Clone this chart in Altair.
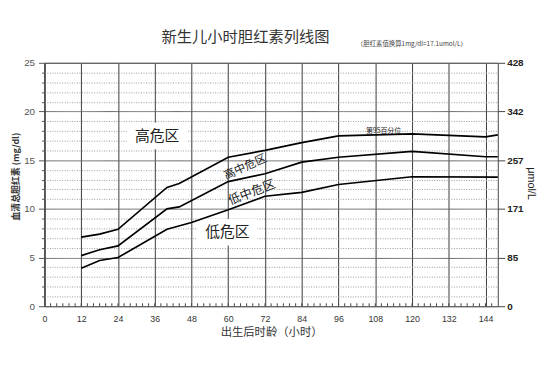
import altair as alt
import pandas as pd

# ---- data ----
hours_95 = [12, 18, 24, 40, 44, 60, 72, 84, 96, 120, 144, 148]
tsb_95 = [7.1, 7.4, 7.9, 12.2, 12.6, 15.3, 16.0, 16.8, 17.5, 17.7, 17.4, 17.6]
hours_75 = [12, 18, 24, 40, 44, 60, 72, 84, 96, 120, 144, 148]
tsb_75 = [5.2, 5.8, 6.2, 10.0, 10.2, 12.8, 13.6, 14.8, 15.3, 15.9, 15.35, 15.35]
hours_40 = [12, 18, 24, 40, 48, 60, 72, 84, 96, 120, 148]
tsb_40 = [3.9, 4.7, 5.0, 7.9, 8.6, 9.9, 11.3, 11.7, 12.5, 13.3, 13.25]

x_ticks = list(range(0, 145, 12))
y_ticks = list(range(0, 26))
y_major = [0, 5, 10, 15, 20, 25]
umol_labels = ["0", "85", "171", "257", "342", "428"]
minor_hours = list(range(2, 148, 2))

zone_labels = ["高危区", "高中危区", "低中危区", "低危区", "第95百分位"]
zone_x = [36.8, 65.6, 67.7, 59.7, 110.7]
zone_y = [17.5, 14.25, 11.7, 7.6, 18.0]
zone_size = [15, 11.5, 12.5, 15, 7]
zone_angle = [0, 336, 339, 0, 0]

title_text = "新生儿小时胆红素列线图"
note_text = "（胆红素值换算1mg/dl=17.1umol/L）"

# ---- tables ----
W, H = 460, 247
X_MAX, Y_MAX = 148, 25
rows = []
for name, hs, vs in [("p95", hours_95, tsb_95), ("p75", hours_75, tsb_75), ("p40", hours_40, tsb_40)]:
    for h, v in zip(hs, vs):
        rows.append({"series": name, "hour": h, "tsb": v})
lines_df = pd.DataFrame(rows)
ticks_df = pd.DataFrame({"hour": minor_hours, "y0": 0.0, "y1": 0.3})
zones_df = pd.DataFrame({"label": zone_labels, "hour": zone_x, "tsb": zone_y,
                         "fs": zone_size, "ang": zone_angle})

# white boxes behind the large horizontal zone labels (derived from label size)
box = zones_df[(zones_df.ang == 0) & (zones_df.fs >= 13)].copy()
half_w = (box.label.str.len() * box.fs / 2 + 8) * X_MAX / W
half_h = (box.fs / 2 + 6) * Y_MAX / H
box["x0"], box["x1"] = box.hour - half_w, box.hour + half_w
box["y0"], box["y1"] = box.tsb - half_h, box.tsb + half_h

NUM_FONT = "Liberation Sans"
CJK = "Noto Sans CJK SC"

x_scale = alt.Scale(domain=[0, X_MAX], nice=False, zero=False)
y_scale = alt.Scale(domain=[0, Y_MAX], nice=False)

x_axis = alt.Axis(
    values=x_ticks, grid=True, gridColor="#3a3a3a", gridWidth=1,
    ticks=False, domain=False, labelFont=NUM_FONT, labelFontSize=9,
    labelColor="#333", labelPadding=8, labelOverlap=False, labelFlush=False,
    title="出生后时龄（小时）",
    titleFont=CJK, titleFontSize=11.5, titleFontWeight="normal", titleColor="#333",
    titleY=27, titleBaseline="middle")

is_major = "datum.value % 5 == 0"
y_axis = alt.Axis(
    values=y_ticks, grid=True,
    gridColor={"condition": {"test": is_major, "value": "#666"}, "value": "#999"},
    gridDash={"condition": {"test": is_major, "value": [1, 0]}, "value": [1, 1.5]},
    gridWidth=1,
    tickSize={"condition": {"test": is_major, "value": 6}, "value": 3},
    tickColor="#555", domainColor="#444",
    labelExpr="datum.value % 5 == 0 ? datum.label : ''",
    labelOverlap=False, labelFlush=False,
    labelFont=NUM_FONT, labelFontSize=10, labelColor="#555", labelPadding=4,
    title="血清总胆红素 (mg/dl)", titleFont=CJK, titleFontSize=9, titleFontWeight="bold",
    titleColor="#333", titleX=-29, titleY=115, titleAlign="center", titleBaseline="middle")


def X(field):
    return alt.X(field, scale=x_scale, axis=x_axis)


def Y(field):
    return alt.Y(field, scale=y_scale, axis=y_axis)


boxes = alt.Chart(box).mark_rect(color="white").encode(
    x=X("x0:Q"), x2="x1:Q", y=Y("y0:Q"), y2="y1:Q")

lines = alt.Chart(lines_df).mark_line(color="black", strokeWidth=1.7).encode(
    x=X("hour:Q"), y=Y("tsb:Q"), detail="series:N")

minor = alt.Chart(ticks_df).mark_rule(color="#444", strokeWidth=1).encode(
    x=X("hour:Q"), y=Y("y0:Q"), y2="y1:Q")

zones = alt.Chart(zones_df).mark_text(font=CJK, color="#222").encode(
    x=X("hour:Q"), y=Y("tsb:Q"), text="label:N",
    size=alt.Size("fs:Q", scale=None), angle=alt.Angle("ang:Q", scale=None))

title = alt.Chart(pd.DataFrame({"t": [title_text]})).mark_text(
    font=CJK, fontSize=15.5, color="#333", align="center", baseline="middle").encode(
    x=alt.value(204), y=alt.value(-26), text="t:N")

note = alt.Chart(pd.DataFrame({"t": [note_text]})).mark_text(
    font=CJK, fontSize=6.5, color="#444", align="left", baseline="middle").encode(
    x=alt.value(317), y=alt.value(-19), text="t:N")

left = alt.layer(boxes, lines, minor, zones, title, note)

right_axis = alt.Axis(
    orient="right", values=y_major, grid=False, tickSize=7, tickColor="#444",
    domain=False, labelOverlap=False, labelFlush=False,
    labelExpr="[" + ",".join("'" + s + "'" for s in umol_labels) + "][datum.value/5]",
    labelFont=NUM_FONT, labelFontSize=10, labelFontWeight="bold", labelColor="#222",
    labelPadding=2, title="μmol/L", titleFont=NUM_FONT, titleFontSize=11,
    titleFontWeight="normal", titleColor="#222", titleX=33, titleY=122,
    titleAlign="center", titleBaseline="middle", titleAngle=90)

right = alt.Chart(lines_df).mark_line(opacity=0).encode(
    x=X("hour:Q"),
    y=alt.Y("tsb:Q", scale=y_scale, axis=right_axis), detail="series:N")

chart = alt.layer(left, right).resolve_scale(y="independent").properties(
    width=W, height=H,
    padding={"left": 37, "top": 53, "right": 55, "bottom": 55},
    autosize=alt.AutoSizeParams(type="none"),
    background="white",
).configure_view(stroke="#444", strokeWidth=1)

chart.save("out.html", embed_options={"renderer": "svg", "actions": False})
